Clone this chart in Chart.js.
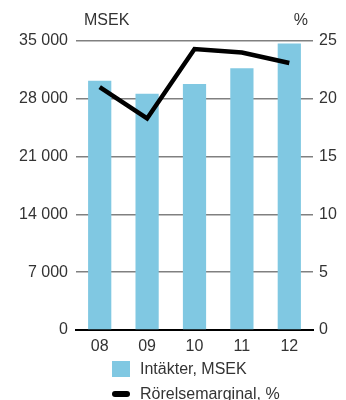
<!DOCTYPE html>
<html>
<head>
<meta charset="utf-8">
<script src="https://cdn.jsdelivr.net/npm/chart.js@4"></script>
<style>
  body { margin: 0; background: #fff; }
  #wrap { position: relative; width: 346px; height: 400px; }
  #legend { position: absolute; left: 112px; top: 356px; font: 16px "Liberation Sans", Arial, sans-serif; color: #333; }
  .item { height: 25px; display: flex; align-items: center; }
  .sw { width: 18px; margin-right: 10px; }
</style>
</head>
<body>
<div id="wrap">
  <canvas id="myChart" width="346" height="400"></canvas>
  <div id="legend"></div>
</div>
<script>
var years = ["08", "09", "10", "11", "12"];
var intakter = [30200, 28600, 29800, 31700, 34700];
var marginal = [21.0, 18.3, 24.3, 24.0, 23.1];
var leftTicks = [0, 7000, 14000, 21000, 28000, 35000];
var rightTicks = [0, 5, 10, 15, 20, 25];

var barColor = "#80c8e2";
var textColor = "#333";
var fontFamily = '"Liberation Sans", Arial, sans-serif';

function fmt(v) {
    return String(v).replace(/\B(?=(\d{3})+(?!\d))/g, " ");
}

var unitTitles = {
    id: "unitTitles",
    afterDraw: function(chart) {
        var c = chart.ctx;
        c.save();
        c.fillStyle = textColor;
        c.font = "16px " + fontFamily;
        c.textBaseline = "middle";
        c.textAlign = "left";
        c.fillText("MSEK", 84, 21);
        c.textAlign = "right";
        c.fillText("%", 308, 21);
        c.restore();
    }
};

var ctx = document.getElementById("myChart");
var chart = new Chart(ctx, {
    type: "bar",
    data: {
        labels: years,
        datasets: [{
            type: "line",
            label: "Rörelsemarginal, %",
            data: marginal,
            yAxisID: "y1",
            borderColor: "#000",
            borderWidth: 4.5,
            pointRadius: 0,
            tension: 0,
            order: 0
        }, {
            label: "Intäkter, MSEK",
            data: intakter,
            yAxisID: "y",
            backgroundColor: barColor,
            barPercentage: 0.49,
            categoryPercentage: 1,
            order: 1
        }]
    },
    options: {
        responsive: false,
        animation: false,
        layout: { padding: { top: 41, left: 0, right: 0, bottom: 0 } },
        plugins: {
            legend: { display: false },
            tooltip: { enabled: false }
        },
        scales: {
            x: {
                grid: { display: false },
                border: { color: "#000", width: 2 },
                ticks: { color: textColor, font: { family: fontFamily, size: 16 }, padding: -1 },
                afterFit: function(s) { s.height = 70; }
            },
            y: {
                position: "left",
                min: 0, max: 35000,
                afterBuildTicks: function(s) { s.ticks = leftTicks.map(function(v) { return { value: v }; }); },
                ticks: { color: textColor, font: { family: fontFamily, size: 16 }, padding: 8, callback: function(v) { return fmt(v); } },
                grid: { color: "#808080", lineWidth: 1.5, drawTicks: false },
                border: { display: false },
                afterFit: function(s) { s.width = 76; }
            },
            y1: {
                position: "right",
                min: 0, max: 25,
                afterBuildTicks: function(s) { s.ticks = rightTicks.map(function(v) { return { value: v }; }); },
                ticks: { color: textColor, font: { family: fontFamily, size: 16 }, padding: 6 },
                grid: { display: false, drawTicks: false },
                border: { display: false },
                afterFit: function(s) { s.width = 33; }
            }
        }
    },
    plugins: [unitTitles]
});

// legend built from the datasets
var leg = document.getElementById("legend");
[chart.data.datasets[1], chart.data.datasets[0]].forEach(function(ds) {
    var item = document.createElement("div");
    item.className = "item";
    var sw = document.createElement("span");
    sw.className = "sw";
    if (ds.type === "line") {
        sw.style.height = "6px";
        sw.style.borderRadius = "3px";
        sw.style.background = "#000";
    } else {
        sw.style.height = "16px";
        sw.style.background = ds.backgroundColor;
    }
    item.appendChild(sw);
    item.appendChild(document.createTextNode(ds.label));
    leg.appendChild(item);
});
</script>
</body>
</html>
